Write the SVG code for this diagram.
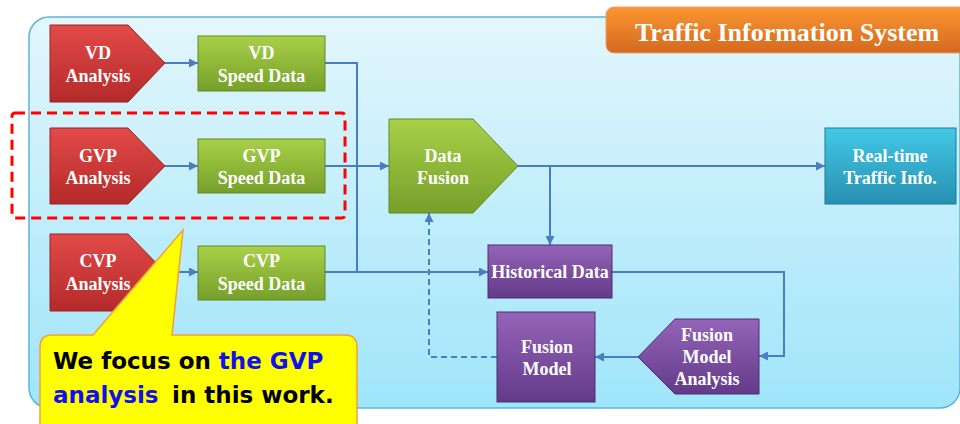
<svg xmlns="http://www.w3.org/2000/svg" width="960" height="424" viewBox="0 0 960 424">
<defs>
<linearGradient id="gPanel" x1="0" y1="0" x2="0" y2="1"><stop offset="0" stop-color="#e3f6fc"/><stop offset="1" stop-color="#9fe5fa"/></linearGradient>
<linearGradient id="gRed" x1="0" y1="0" x2="0" y2="1"><stop offset="0" stop-color="#e24a48"/><stop offset="1" stop-color="#b42a2a"/></linearGradient>
<linearGradient id="gGreen" x1="0" y1="0" x2="0" y2="1"><stop offset="0" stop-color="#a8d048"/><stop offset="1" stop-color="#76a02a"/></linearGradient>
<linearGradient id="gPurple" x1="0" y1="0" x2="0" y2="1"><stop offset="0" stop-color="#9464b8"/><stop offset="1" stop-color="#633a8a"/></linearGradient>
<linearGradient id="gCyan" x1="0" y1="0" x2="0" y2="1"><stop offset="0" stop-color="#42c8e6"/><stop offset="1" stop-color="#2890b2"/></linearGradient>
<linearGradient id="gOrange" x1="0" y1="0" x2="0" y2="1"><stop offset="0" stop-color="#fa9632"/><stop offset="1" stop-color="#d4691e"/></linearGradient>
<marker id="arr" viewBox="0 0 10 10" refX="10" refY="5" markerWidth="10" markerHeight="9" markerUnits="userSpaceOnUse" orient="auto"><path d="M0,0 L10,5 L0,10 Z" fill="#4a7cc0"/></marker>
<style>
.lbl{font-family:"Liberation Serif","Times New Roman",serif;font-weight:bold;font-size:18px;fill:#ffffff;text-anchor:middle}
.red{fill:url(#gRed);stroke:#9a2222;stroke-width:1}
.green{fill:url(#gGreen);stroke:#62881e;stroke-width:1}
.purple{fill:url(#gPurple);stroke:#4e2c70;stroke-width:1}
.cyan{fill:url(#gCyan);stroke:#1e7896;stroke-width:1}
.conn{fill:none;stroke:#4a7cc0;stroke-width:2}
.dash{stroke-dasharray:6 4}
.note{font-family:"DejaVu Sans",Verdana,sans-serif;font-weight:bold;font-size:23px;fill:#000000}
.blue{fill:#1010ee}
</style>
</defs>
<rect id="panel" x="29" y="17" width="931" height="391" rx="20" fill="url(#gPanel)" stroke="#5eb4d6" stroke-width="1.5"/>
<g id="title">
<rect x="606" y="7" width="370" height="46" rx="8" fill="url(#gOrange)" stroke="#e8a070" stroke-width="1"/>
<text x="787" y="41" class="lbl" style="font-size:26px">Traffic Information System</text>
</g>
<g id="connectors">
<path class="conn" d="M165,63 L198,63" marker-end="url(#arr)"/>
<path class="conn" d="M165,166 L198,166" marker-end="url(#arr)"/>
<path class="conn" d="M165,272 L198,272" marker-end="url(#arr)"/>
<path class="conn" d="M325,63 L357,63 L357,272"/>
<path class="conn" d="M325,166 L389,166" marker-end="url(#arr)"/>
<path class="conn" d="M325,272 L488,272" marker-end="url(#arr)"/>
<path class="conn" d="M518,166 L825,166" marker-end="url(#arr)"/>
<path class="conn" d="M550,166 L550,245" marker-end="url(#arr)"/>
<path class="conn" d="M612,272 L784,272 L784,356 L759,356" marker-end="url(#arr)"/>
<path class="conn" d="M638,357 L595,357" marker-end="url(#arr)"/>
<path class="conn dash" d="M497,357 L429,357 L429,213" marker-end="url(#arr)"/>
</g>
<g id="vd-analysis"><path class="red" d="M50,25 L128,25 L165,63 L128,102 L50,102 Z"/><text class="lbl" x="98" y="59">VD</text><text class="lbl" x="98" y="82">Analysis</text></g>
<g id="vd-speed"><rect class="green" x="198" y="36" width="127" height="55"/><text class="lbl" x="261.5" y="59">VD</text><text class="lbl" x="261.5" y="82">Speed Data</text></g>
<g id="gvp-analysis"><path class="red" d="M50,128 L128,128 L165,166 L128,204 L50,204 Z"/><text class="lbl" x="98" y="162">GVP</text><text class="lbl" x="98" y="184">Analysis</text></g>
<g id="gvp-speed"><rect class="green" x="198" y="139" width="127" height="54"/><text class="lbl" x="261.5" y="162">GVP</text><text class="lbl" x="261.5" y="184">Speed Data</text></g>
<g id="cvp-analysis"><path class="red" d="M50,234 L128,234 L165,272 L128,311 L50,311 Z"/><text class="lbl" x="98" y="267">CVP</text><text class="lbl" x="98" y="290">Analysis</text></g>
<g id="cvp-speed"><rect class="green" x="198" y="246" width="127" height="54"/><text class="lbl" x="261.5" y="267">CVP</text><text class="lbl" x="261.5" y="290">Speed Data</text></g>
<g id="data-fusion"><path class="green" d="M389,119 L473,119 L518,166 L473,213 L389,213 Z"/><text class="lbl" x="443" y="162">Data</text><text class="lbl" x="443" y="184">Fusion</text></g>
<g id="realtime"><rect class="cyan" x="825" y="128" width="131" height="76"/><text class="lbl" x="890" y="162">Real-time</text><text class="lbl" x="890" y="184">Traffic Info.</text></g>
<g id="historical"><rect class="purple" x="488" y="245" width="124" height="53"/><text class="lbl" x="550" y="278">Historical Data</text></g>
<g id="fusion-model"><rect class="purple" x="497" y="312" width="98" height="90"/><text class="lbl" x="547" y="353">Fusion</text><text class="lbl" x="547" y="375">Model</text></g>
<g id="fusion-model-analysis"><path class="purple" d="M638,357 L675,319 L759,319 L759,394 L675,394 Z"/><text class="lbl" x="707" y="341">Fusion</text><text class="lbl" x="707" y="363">Model</text><text class="lbl" x="707" y="385">Analysis</text></g>
<rect id="highlight" x="12" y="113" width="333" height="105" rx="3" fill="none" stroke="#ff0000" stroke-width="3" stroke-dasharray="10 6"/>
<g id="callout">
<path d="M52,335 L93,335 L183,230 L172,335 L345,335 Q357,335 357,347 L357,432 L40,432 L40,347 Q40,335 52,335 Z" fill="#ffff00" stroke="#f0a040" stroke-width="1.5"/>
<text class="note" x="53" y="369">We focus on <tspan class="blue">the GVP</tspan></text>
<text class="note" x="53" y="403"><tspan class="blue">analysis</tspan>  <tspan x="172">in this work.</tspan></text>
</g>
</svg>
